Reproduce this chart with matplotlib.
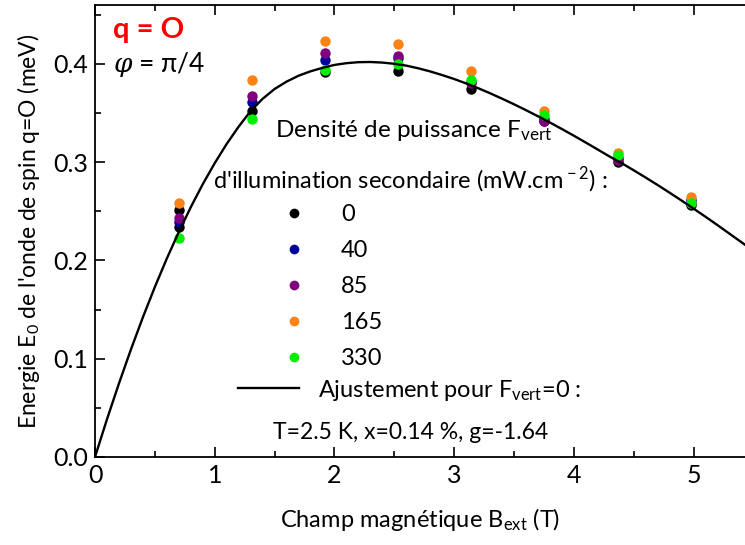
import numpy as np
import matplotlib
matplotlib.use("Agg")
import matplotlib.pyplot as plt
from matplotlib.lines import Line2D
from matplotlib.ticker import MultipleLocator, FormatStrFormatter

plt.rcParams['font.family'] = ['Lato', 'DejaVu Sans']
plt.rcParams['mathtext.fontset'] = 'custom'
plt.rcParams['mathtext.rm'] = 'Lato'
plt.rcParams['mathtext.it'] = 'DejaVu Serif:italic'

# ---- data ----
B_pts = [0.70, 1.31, 1.92, 2.53, 3.14, 3.75, 4.37, 4.98]
E_0 = [0.234, 0.352, 0.3915, 0.3925, 0.375, 0.342, 0.300, 0.256]
E_0_extra_B = [0.70]
E_0_extra = [0.251]
E_40 = [0.239, 0.361, 0.4045, 0.406, 0.382, 0.344, 0.304, 0.262]
E_85 = [0.243, 0.3675, 0.411, 0.4085, 0.381, 0.342, 0.302, 0.258]
E_165 = [0.258, 0.384, 0.423, 0.420, 0.3925, 0.352, 0.309, 0.265]
E_330 = [0.223, 0.344, 0.394, 0.400, 0.384, 0.348, 0.307, 0.259]
labels = ["0", "40", "85", "165", "330"]
colors = ["#000000", "#00009c", "#800080", "#ff8214", "#00f000"]

fit_B = [0.0, 0.1, 0.2, 0.3, 0.4, 0.5, 0.6, 0.7, 0.8, 0.9, 1.0, 1.1, 1.2, 1.3,
         1.4, 1.5, 1.6, 1.7, 1.8, 1.9, 2.0, 2.1, 2.2, 2.3, 2.4, 2.5, 2.6, 2.7,
         2.8, 2.9, 3.0, 3.1, 3.2, 3.3, 3.4, 3.5, 3.6, 3.7, 3.8, 3.9, 4.0, 4.1,
         4.2, 4.3, 4.4, 4.5, 4.6, 4.7, 4.8, 4.9, 5.0, 5.1, 5.2, 5.3, 5.43]
fit_E = [0.0, 0.0384, 0.0748, 0.1094, 0.1422, 0.1730, 0.2020, 0.2290, 0.2542,
         0.2776, 0.2990, 0.3186, 0.3362, 0.3520, 0.3645, 0.3745, 0.3820, 0.3880,
         0.3925, 0.3960, 0.3990, 0.4008, 0.4018, 0.4020, 0.4014, 0.4002, 0.3983,
         0.3956, 0.3924, 0.3887, 0.3847, 0.3802, 0.3754, 0.3702, 0.3647, 0.3590,
         0.3530, 0.3468, 0.3404, 0.3338, 0.3270, 0.3200, 0.3129, 0.3057, 0.2990,
         0.2918, 0.2844, 0.2768, 0.2690, 0.2610, 0.2528, 0.2445, 0.2360, 0.2273,
         0.2160]

fig = plt.figure(figsize=(7.45, 5.45), dpi=100)
ax = fig.add_axes([95/745, 88/545, 650/745, 452/545])

series = [E_0, E_40, E_85, E_165, E_330]
handles = []
for i, (E, c, lab) in enumerate(zip(series, colors, labels)):
    ax.plot(B_pts, E, 'o', color=c, ms=7.5, mec='none', zorder=3 + i)
    if i == 0:
        ax.plot(E_0_extra_B, E_0_extra, 'o', color=c, ms=7.5, mec='none', zorder=3)
    handles.append(Line2D([], [], marker='o', ls='none', color=c, ms=7, mec='none'))
ax.plot(fit_B, fit_E, '-', color='black', lw=1.7, zorder=10)

ax.set_xlim(0, 5.43)
ax.set_ylim(0, 0.46)
ax.xaxis.set_major_locator(MultipleLocator(1))
ax.xaxis.set_minor_locator(MultipleLocator(0.5))
ax.yaxis.set_major_locator(MultipleLocator(0.1))
ax.yaxis.set_minor_locator(MultipleLocator(0.05))
ax.yaxis.set_major_formatter(FormatStrFormatter('%.1f'))
ax.xaxis.set_major_formatter(FormatStrFormatter('%d'))
ax.tick_params(which='both', direction='in', top=True, right=False, width=1.2)
ax.tick_params(which='major', length=7, labelsize=18, pad=5)
ax.tick_params(which='minor', length=4)
ax.spines['right'].set_visible(False)
for s in ['left', 'bottom', 'top']:
    ax.spines[s].set_linewidth(1.3)

ax.set_xlabel("Champ magnétique B$_{\\rm ext}$ (T)", fontsize=17, labelpad=14)
ax.set_ylabel("Energie E$_{\\rm 0}$ de l'onde de spin q=O (meV)", fontsize=16.5, labelpad=8)

ax.text(0.027, 0.944, "q = O", transform=ax.transAxes, color='red', fontsize=21,
        fontweight='bold', ha='left', va='center')
ax.text(0.027, 0.868, "$\\varphi$ = π/4", transform=ax.transAxes, fontsize=19,
        ha='left', va='center')

ax.text(0.277, 0.723, "Densité de puissance F$_{\\rm vert}$", transform=ax.transAxes,
        fontsize=17.5, ha='left', va='center')
ax.text(0.182, 0.613, "d'illumination secondaire (mW.cm$^{\\rm -2}$) :", transform=ax.transAxes,
        fontsize=17, ha='left', va='center')

leg1 = ax.legend(handles, labels, loc='upper left', bbox_to_anchor=(0.288, 0.559),
                 frameon=False, fontsize=17, labelspacing=0.63, handletextpad=1.5,
                 handlelength=1.0, borderaxespad=0, borderpad=0)
ax.add_artist(leg1)
line_h = Line2D([], [], color='black', lw=1.7)
leg2 = ax.legend([line_h], ["Ajustement pour F$_{\\rm vert}$=0 :"], loc='center left',
                 bbox_to_anchor=(0.22, 0.148), frameon=False, fontsize=17,
                 handlelength=2.6, handletextpad=0.8, borderaxespad=0, borderpad=0)
ax.text(0.485, 0.055, "T=2.5 K, x=0.14 %, g=-1.64", transform=ax.transAxes,
        fontsize=16.5, ha='center', va='center')

fig.savefig("out.png", dpi=100)
